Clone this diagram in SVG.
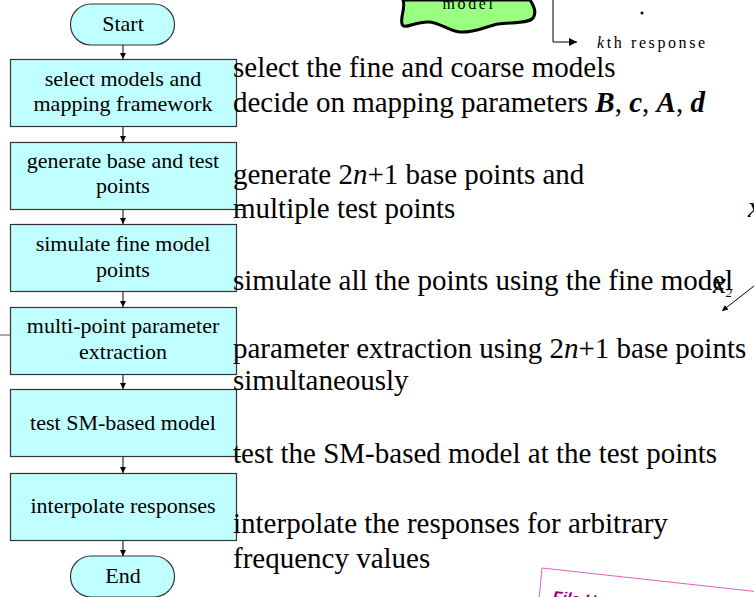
<svg xmlns="http://www.w3.org/2000/svg" width="754" height="597" viewBox="0 0 754 597">
  <defs>
    <marker id="arrowhead" viewBox="0 0 10 10" refX="10" refY="5" markerWidth="6" markerHeight="6" markerUnits="userSpaceOnUse" orient="auto">
      <path d="M0,0 L10,5 L0,10 z" fill="#000"/>
    </marker>
    <marker id="arrowhead-lg" viewBox="0 0 10 10" refX="10" refY="5" markerWidth="10" markerHeight="8" markerUnits="userSpaceOnUse" orient="auto">
      <path d="M0,0 L10,5 L0,10 z" fill="#000"/>
    </marker>
    <style>
      .box { fill: #c0ffff; stroke: #333; stroke-width: 1.2; }
      .lbl { font-family: "Liberation Serif", "Times New Roman", serif; font-size: 22px; fill: #000; text-anchor: middle; }
      .note { font-family: "Liberation Serif", "Times New Roman", serif; font-size: 29px; fill: #000; }
      .small { font-family: "Liberation Serif", "Times New Roman", serif; font-size: 16px; fill: #000; letter-spacing: 2.6px; }
      .conn { stroke: #000; stroke-width: 1; fill: none; }
      .bi { font-weight: bold; font-style: italic; }
      .it { font-style: italic; }
    </style>
  </defs>

  <rect width="754" height="597" fill="#fff"/>

  <!-- fragment at the top: coarse model blob and response output -->
  <g id="blob">
    <path d="M403,0 L530,0 C534,6 537,12 533,18 C528,24 512,22 498,24 C484,27 474,33 460,32 C448,31 440,22 428,22 C414,22 404,30 402,24 C400,16 406,8 403,0 Z" fill="#99ff80" stroke="#000" stroke-width="3"/>
    <text x="469" y="9" class="small" text-anchor="middle" font-size="15" letter-spacing="3.2">model</text>
  </g>
  <g id="response-out">
    <path d="M553,0 L553,42 L577,42" fill="none" stroke="#000" stroke-width="1" marker-end="url(#arrowhead-lg)"/>
    <circle cx="642" cy="13" r="1.5" fill="#000"/>
    <text x="597" y="48" class="small"><tspan class="it">k</tspan>th response</text>
  </g>

  <!-- fragments at the right edge -->
  <g id="axes">
    <text x="748" y="217" class="note it" font-size="18">x</text>
    <text x="713" y="293" class="note it" font-size="18">x<tspan font-size="12" dy="4">2</tspan></text>
    <path d="M754,286 L722,311" class="conn" marker-end="url(#arrowhead)"/>
  </g>

  <!-- fragment at the left edge -->
  <g id="left-edge">
    <text x="-6" y="323" class="lbl" text-anchor="start">o</text>
    <path d="M0,335 L10,335" stroke="#555" stroke-width="1"/>
  </g>

  <!-- flowchart nodes -->
  <g id="start">
    <rect x="70.5" y="4" width="104" height="41" rx="20.5" class="box"/>
    <text x="123" y="31" class="lbl">Start</text>
  </g>
  <g id="select-models">
    <rect x="10.5" y="59.5" width="226" height="67" class="box"/>
    <text x="123" y="86" class="lbl">select models and</text>
    <text x="123" y="111" class="lbl">mapping framework</text>
  </g>
  <g id="generate-points">
    <rect x="10.5" y="142.5" width="226" height="67" class="box"/>
    <text x="123" y="168" class="lbl">generate base and test</text>
    <text x="123" y="193" class="lbl">points</text>
  </g>
  <g id="simulate-fine">
    <rect x="10.5" y="224.5" width="226" height="67" class="box"/>
    <text x="123" y="251" class="lbl">simulate fine model</text>
    <text x="123" y="277" class="lbl">points</text>
  </g>
  <g id="parameter-extraction">
    <rect x="10.5" y="307.5" width="226" height="67" class="box"/>
    <text x="123" y="333" class="lbl">multi-point parameter</text>
    <text x="123" y="359" class="lbl">extraction</text>
  </g>
  <g id="test-model">
    <rect x="10.5" y="389.5" width="226" height="67" class="box"/>
    <text x="123" y="430" class="lbl">test SM-based model</text>
  </g>
  <g id="interpolate">
    <rect x="10.5" y="473.5" width="226" height="67" class="box"/>
    <text x="123" y="513" class="lbl">interpolate responses</text>
  </g>
  <g id="end">
    <rect x="70.5" y="556" width="104" height="41" rx="20.5" class="box"/>
    <text x="123" y="583" class="lbl">End</text>
  </g>

  <!-- connectors -->
  <g id="connectors">
    <path d="M123,45 L123,59" class="conn" marker-end="url(#arrowhead)"/>
    <path d="M123,127 L123,142" class="conn" marker-end="url(#arrowhead)"/>
    <path d="M123,210 L123,224" class="conn" marker-end="url(#arrowhead)"/>
    <path d="M123,292 L123,307" class="conn" marker-end="url(#arrowhead)"/>
    <path d="M123,375 L123,389" class="conn" marker-end="url(#arrowhead)"/>
    <path d="M123,457 L123,473" class="conn" marker-end="url(#arrowhead)"/>
    <path d="M123,541 L123,556" class="conn" marker-end="url(#arrowhead)"/>
    <path d="M236,209.5 L243,209.5" class="conn"/>
    <path d="M236,456.5 L241,456.5" class="conn"/>
  </g>

  <!-- step descriptions -->
  <g id="descriptions">
    <text x="233" y="77" class="note">select the fine and coarse models</text>
    <text x="233" y="112" class="note">decide on mapping parameters <tspan class="bi">B</tspan>, <tspan class="bi">c</tspan>, <tspan class="bi">A</tspan>, <tspan class="bi">d</tspan></text>
    <text x="233" y="184" class="note">generate 2<tspan class="it">n</tspan>+1 base points and</text>
    <text x="233" y="218" class="note">multiple test points</text>
    <text x="233" y="290" class="note">simulate all the points using the fine model</text>
    <text x="233" y="358" class="note">parameter extraction using 2<tspan class="it">n</tspan>+1 base points</text>
    <text x="233" y="390" class="note">simultaneously</text>
    <text x="233" y="463" class="note">test the SM-based model at the test points</text>
    <text x="233" y="533" class="note">interpolate the responses for arbitrary</text>
    <text x="233" y="568" class="note">frequency values</text>
  </g>

  <!-- tilted note card at the bottom right -->
  <g id="note-card">
    <path d="M539,600 L542,568 L760,592" fill="none" stroke="#e060c0" stroke-width="1"/>
    <text x="552" y="602" font-family="Liberation Sans, Arial, sans-serif" font-size="16" font-weight="bold" font-style="italic" fill="#990077" transform="rotate(6 552 602)">File H</text>
  </g>
</svg>
